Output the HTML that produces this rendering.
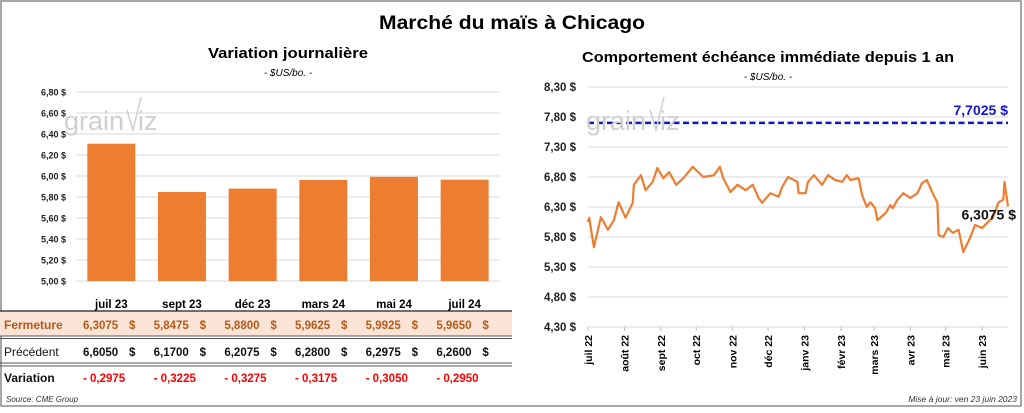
<!DOCTYPE html>
<html><head><meta charset="utf-8"><style>
html,body{margin:0;padding:0;background:#fff}
body{width:1024px;height:408px;overflow:hidden;font-family:"Liberation Sans",sans-serif}
svg text{font-family:"Liberation Sans",sans-serif}
</style></head><body>
<svg id="c" width="1024" height="408" viewBox="0 0 1024 408" xmlns="http://www.w3.org/2000/svg">
<rect x="1" y="1" width="1020" height="405" fill="#fff" stroke="#8a8a8a" stroke-width="1.5"/>
<text x="512" y="29" text-anchor="middle" font-size="19" font-weight="bold" textLength="266" lengthAdjust="spacingAndGlyphs">Marché du maïs à Chicago</text>
<text x="288" y="58" text-anchor="middle" font-size="14.5" font-weight="bold" textLength="160" lengthAdjust="spacingAndGlyphs">Variation  journalière</text>
<text x="288" y="76" text-anchor="middle" font-size="10" font-style="italic">- $US/bo. -</text>
<text x="768" y="62" text-anchor="middle" font-size="14.5" font-weight="bold" textLength="372" lengthAdjust="spacingAndGlyphs">Comportement  échéance immédiate  depuis 1 an</text>
<text x="768" y="80" text-anchor="middle" font-size="10" font-style="italic">- $US/bo. -</text>
<g id="left"></g>
<g id="right"></g>
<text x="64" y="130" font-size="27" fill="#cfcfcf">grain<tspan dx="14">iz</tspan></text>
<text x="586" y="130" font-size="27" fill="#cfcfcf">grain<tspan dx="14">iz</tspan></text>
<polyline points="127,110 133,130 141,97" fill="none" stroke="#cfcfcf" stroke-width="1.5"/>
<polyline points="650,110 656,130 664,97" fill="none" stroke="#cfcfcf" stroke-width="1.5"/>
<text x="6" y="402" font-size="8" font-style="italic" fill="#333">Source: CME Group</text>
<text x="1017" y="402" text-anchor="end" font-size="8.5" font-style="italic" fill="#333">Mise à jour: ven 23 juin 2023</text>
</svg>
<script>
const NS="http://www.w3.org/2000/svg";
const contracts=["juil 23","sept 23","déc 23","mars 24","mai 24","juil 24"];
const closeVals=[6.3075,5.8475,5.8800,5.9625,5.9925,5.9650];
const prevVals=[6.6050,6.1700,6.2075,6.2800,6.2975,6.2600];
const leftTicks=[5.0,5.2,5.4,5.6,5.8,6.0,6.2,6.4,6.6,6.8];
const histDays=[0,1,5,11,17,22,26,32,38,39,45,49,55,59,64,69,75,81,89,98,107,112,115,121,127,134,140,145,148,155,162,165,170,178,179,185,187,192,199,204,210,216,220,223,230,233,237,240,244,246,253,257,259,263,268,274,280,284,288,293,297,298,302,306,310,315,319,325,329,335,340,344,349,353,354,357];
const histVals=[6.05,6.12,5.63,6.13,5.92,6.08,6.38,6.12,6.37,6.67,6.83,6.58,6.72,6.95,6.78,6.88,6.67,6.78,6.97,6.80,6.83,6.97,6.78,6.55,6.67,6.58,6.67,6.45,6.37,6.53,6.47,6.63,6.80,6.72,6.53,6.53,6.72,6.83,6.67,6.83,6.75,6.72,6.83,6.75,6.78,6.50,6.30,6.38,6.28,6.08,6.20,6.33,6.28,6.42,6.53,6.45,6.53,6.70,6.75,6.53,6.37,5.83,5.80,5.95,5.87,5.92,5.55,5.80,6.00,5.95,6.05,6.12,6.38,6.42,6.72,6.3075];
const rightTicks=[4.3,4.8,5.3,5.8,6.3,6.8,7.3,7.8,8.3];
const monthLabels=["juil 22","août 22","sept 22","oct 22","nov 22","déc 22","janv 23","févr 23","mars 23","avr 23","mai 23","juin 23"];
const monthDays=[0,31,62,92,123,153,184,215,243,274,304,335];
const refLevel=7.7025;
const fmt=(v,d)=>v.toFixed(d).replace('.',',');
function mk(tag,attrs,parent,txt){const e=document.createElementNS(NS,tag);for(const k in attrs)e.setAttribute(k,attrs[k]);if(txt!==undefined)e.textContent=txt;parent.appendChild(e);return e;}
// left chart
const L=document.getElementById('left');
const lx0=76,lx1=500,ly=v=>281-(v-5.0)*105;
const bw=(lx1-lx0)/contracts.length;
leftTicks.forEach(t=>{
 const g=mk('line',{x1:lx0,x2:lx1,y1:ly(t),y2:ly(t),stroke:'#d9d9d9','stroke-width':1},L);
 
 
 const tx=mk('text',{x:66,y:ly(t)+3.5,'text-anchor':'end','font-size':9,'font-weight':'bold',fill:'#222'},L,fmt(t,2)+' $');
 
 
});
mk('rect',{x:0,y:311,width:512,height:25,fill:'#fbe4d6'},L);
closeVals.forEach((v,i)=>{
 const x=lx0+i*bw+11.3;
 const r=mk('rect',{x:x,y:ly(v),width:48,height:ly(5.0)-ly(v),fill:'#ed7d31'},L);
 
 
 const cx=lx0+i*bw+bw/2;
 const h=mk('text',{x:cx,y:308,'text-anchor':'middle','font-size':11.5,'font-weight':'bold'},L,contracts[i]);
 
 
 const nx=83+i*bw;
 const c=mk('text',{x:nx,y:329,'font-size':11.5,'font-weight':'bold',fill:'#b55a1a'},L,fmt(v,4));
 
 
 const cd=mk('text',{x:nx+46,y:329,'font-size':11.5,'font-weight':'bold',fill:'#b55a1a'},L,'$');
 
 
 const p=mk('text',{x:nx,y:356,'font-size':11.5,'font-weight':'bold',fill:'#111'},L,fmt(prevVals[i],4));
 
 
 const pd=mk('text',{x:nx+46,y:356,'font-size':11.5,'font-weight':'bold',fill:'#111'},L,'$');
 
 
 const d=v-prevVals[i];
 const vr=mk('text',{x:nx,y:382,'font-size':11.5,'font-weight':'bold',fill:'#ff0000'},L,(d<0?'- ':'+ ')+fmt(Math.abs(d),4));
 
 
});
[['Fermeture',329,'#b55a1a','bold'],['Précédent',356,'#111','normal'],['Variation',382,'#111','bold']].forEach(r=>{
 const t=mk('text',{x:4,y:r[1],'font-size':12,'font-weight':r[3],fill:r[2]},L,r[0]);
 
 
});
mk('line',{x1:0,x2:512,y1:311,y2:311,stroke:'#222','stroke-width':1.2},L);
[336,338.5,363,366].forEach(y=>mk('line',{x1:0,x2:512,y1:y,y2:y,stroke:'#555','stroke-width':1},L));
// right chart
const R=document.getElementById('right');
const rx0=588,rx1=1008,ry=v=>327-(v-4.3)*60,rx=d=>rx0+(d/357)*(rx1-rx0);
rightTicks.forEach(t=>{
 const g=mk('line',{x1:rx0,x2:rx1,y1:ry(t),y2:ry(t),stroke:'#d9d9d9','stroke-width':1},R);
 
 
 const tx=mk('text',{x:576,y:ry(t)+4,'text-anchor':'end','font-size':11.5,'font-weight':'bold',fill:'#222'},R,fmt(t,2)+' $');
 
 
});
monthDays.forEach((d,i)=>{
 const x=rx(d);
 const tk=mk('line',{x1:x,x2:x,y1:327,y2:331,stroke:'#bbb'},R);
 
 
 const t=mk('text',{x:0,y:0,'text-anchor':'end','font-size':10.5,'font-weight':'bold',transform:`translate(${x+4},335) rotate(-90)`},R,monthLabels[i]);
 
 
});
const dl=mk('line',{x1:rx0,x2:rx1,y1:ry(refLevel),y2:ry(refLevel),stroke:'#1515c8','stroke-width':2.5,'stroke-dasharray':'6 3.5'},R);


const dt=mk('text',{x:rx1,y:ry(refLevel)-8,'text-anchor':'end','font-size':14,'font-weight':'bold',fill:'#1515c8'},R,fmt(refLevel,4)+' $');


const pts=histDays.map((d,i)=>rx(d).toFixed(1)+','+ry(histVals[i]).toFixed(1)).join(' ');
const pl=mk('polyline',{points:pts,fill:'none',stroke:'#ed7d31','stroke-width':2.2,'stroke-linejoin':'round'},R);


const last=histVals[histVals.length-1];
const lt=mk('text',{x:1016,y:ry(last)+13,'text-anchor':'end','font-size':14,'font-weight':'bold',fill:'#111'},R,fmt(last,4)+' $');


</script>
</body></html>
